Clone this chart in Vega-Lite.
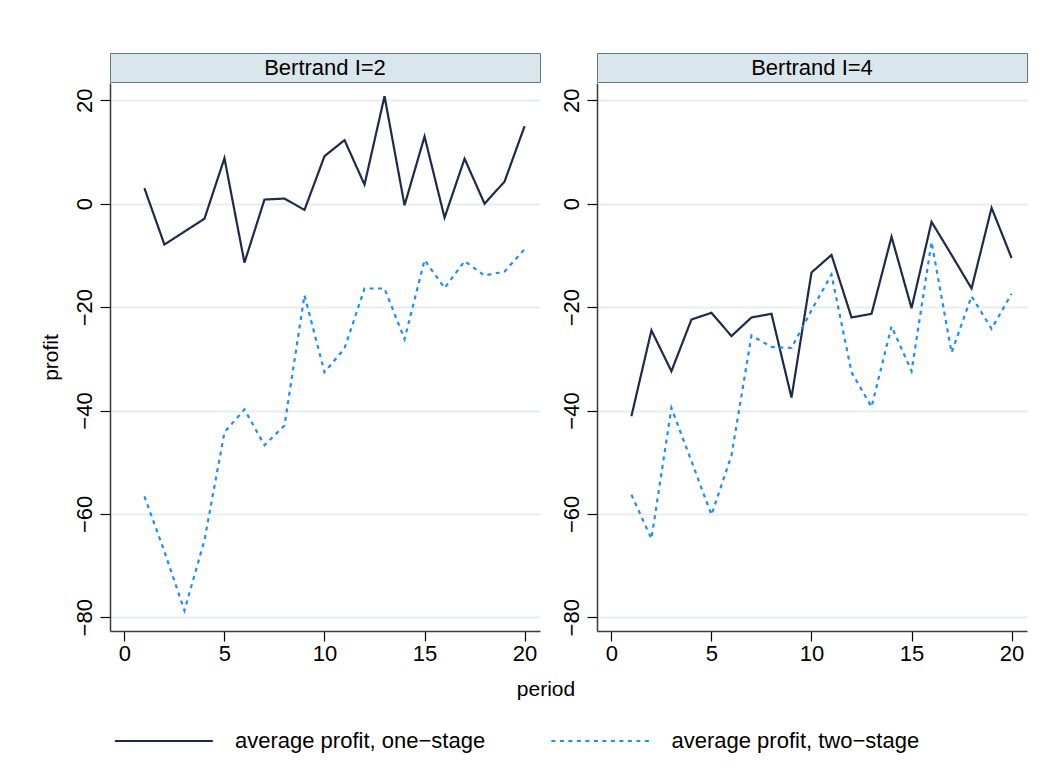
{
  "$schema": "https://vega.github.io/schema/vega-lite/v6.json",
  "background": "white",
  "padding": {"left": 40, "top": 52, "right": 30, "bottom": 5},
  "datasets": {
    "d": [
      {"panel": "Bertrand I=2", "period": 1, "series": "average profit, one−stage", "profit": 3.0},
      {"panel": "Bertrand I=2", "period": 2, "series": "average profit, one−stage", "profit": -7.9},
      {"panel": "Bertrand I=2", "period": 3, "series": "average profit, one−stage", "profit": -5.4},
      {"panel": "Bertrand I=2", "period": 4, "series": "average profit, one−stage", "profit": -2.9},
      {"panel": "Bertrand I=2", "period": 5, "series": "average profit, one−stage", "profit": 8.8},
      {"panel": "Bertrand I=2", "period": 6, "series": "average profit, one−stage", "profit": -11.4},
      {"panel": "Bertrand I=2", "period": 7, "series": "average profit, one−stage", "profit": 0.8},
      {"panel": "Bertrand I=2", "period": 8, "series": "average profit, one−stage", "profit": 1.0},
      {"panel": "Bertrand I=2", "period": 9, "series": "average profit, one−stage", "profit": -1.2},
      {"panel": "Bertrand I=2", "period": 10, "series": "average profit, one−stage", "profit": 9.2},
      {"panel": "Bertrand I=2", "period": 11, "series": "average profit, one−stage", "profit": 12.3},
      {"panel": "Bertrand I=2", "period": 12, "series": "average profit, one−stage", "profit": 3.7},
      {"panel": "Bertrand I=2", "period": 13, "series": "average profit, one−stage", "profit": 20.8},
      {"panel": "Bertrand I=2", "period": 14, "series": "average profit, one−stage", "profit": -0.3},
      {"panel": "Bertrand I=2", "period": 15, "series": "average profit, one−stage", "profit": 13.0},
      {"panel": "Bertrand I=2", "period": 16, "series": "average profit, one−stage", "profit": -2.7},
      {"panel": "Bertrand I=2", "period": 17, "series": "average profit, one−stage", "profit": 8.7},
      {"panel": "Bertrand I=2", "period": 18, "series": "average profit, one−stage", "profit": 0.0},
      {"panel": "Bertrand I=2", "period": 19, "series": "average profit, one−stage", "profit": 4.3},
      {"panel": "Bertrand I=2", "period": 20, "series": "average profit, one−stage", "profit": 15.0},
      {"panel": "Bertrand I=2", "period": 1, "series": "average profit, two−stage", "profit": -56.6},
      {"panel": "Bertrand I=2", "period": 2, "series": "average profit, two−stage", "profit": -67.3},
      {"panel": "Bertrand I=2", "period": 3, "series": "average profit, two−stage", "profit": -78.7},
      {"panel": "Bertrand I=2", "period": 4, "series": "average profit, two−stage", "profit": -65.1},
      {"panel": "Bertrand I=2", "period": 5, "series": "average profit, two−stage", "profit": -44.2},
      {"panel": "Bertrand I=2", "period": 6, "series": "average profit, two−stage", "profit": -39.8},
      {"panel": "Bertrand I=2", "period": 7, "series": "average profit, two−stage", "profit": -46.7},
      {"panel": "Bertrand I=2", "period": 8, "series": "average profit, two−stage", "profit": -42.9},
      {"panel": "Bertrand I=2", "period": 9, "series": "average profit, two−stage", "profit": -17.7},
      {"panel": "Bertrand I=2", "period": 10, "series": "average profit, two−stage", "profit": -32.6},
      {"panel": "Bertrand I=2", "period": 11, "series": "average profit, two−stage", "profit": -28.0},
      {"panel": "Bertrand I=2", "period": 12, "series": "average profit, two−stage", "profit": -16.4},
      {"panel": "Bertrand I=2", "period": 13, "series": "average profit, two−stage", "profit": -16.4},
      {"panel": "Bertrand I=2", "period": 14, "series": "average profit, two−stage", "profit": -26.2},
      {"panel": "Bertrand I=2", "period": 15, "series": "average profit, two−stage", "profit": -10.9},
      {"panel": "Bertrand I=2", "period": 16, "series": "average profit, two−stage", "profit": -16.3},
      {"panel": "Bertrand I=2", "period": 17, "series": "average profit, two−stage", "profit": -11.1},
      {"panel": "Bertrand I=2", "period": 18, "series": "average profit, two−stage", "profit": -13.9},
      {"panel": "Bertrand I=2", "period": 19, "series": "average profit, two−stage", "profit": -13.1},
      {"panel": "Bertrand I=2", "period": 20, "series": "average profit, two−stage", "profit": -8.8},
      {"panel": "Bertrand I=4", "period": 1, "series": "average profit, one−stage", "profit": -41.1},
      {"panel": "Bertrand I=4", "period": 2, "series": "average profit, one−stage", "profit": -24.5},
      {"panel": "Bertrand I=4", "period": 3, "series": "average profit, one−stage", "profit": -32.4},
      {"panel": "Bertrand I=4", "period": 4, "series": "average profit, one−stage", "profit": -22.4},
      {"panel": "Bertrand I=4", "period": 5, "series": "average profit, one−stage", "profit": -21.1},
      {"panel": "Bertrand I=4", "period": 6, "series": "average profit, one−stage", "profit": -25.6},
      {"panel": "Bertrand I=4", "period": 7, "series": "average profit, one−stage", "profit": -22.0},
      {"panel": "Bertrand I=4", "period": 8, "series": "average profit, one−stage", "profit": -21.3},
      {"panel": "Bertrand I=4", "period": 9, "series": "average profit, one−stage", "profit": -37.5},
      {"panel": "Bertrand I=4", "period": 10, "series": "average profit, one−stage", "profit": -13.3},
      {"panel": "Bertrand I=4", "period": 11, "series": "average profit, one−stage", "profit": -9.9},
      {"panel": "Bertrand I=4", "period": 12, "series": "average profit, one−stage", "profit": -22.0},
      {"panel": "Bertrand I=4", "period": 13, "series": "average profit, one−stage", "profit": -21.3},
      {"panel": "Bertrand I=4", "period": 14, "series": "average profit, one−stage", "profit": -6.4},
      {"panel": "Bertrand I=4", "period": 15, "series": "average profit, one−stage", "profit": -20.2},
      {"panel": "Bertrand I=4", "period": 16, "series": "average profit, one−stage", "profit": -3.5},
      {"panel": "Bertrand I=4", "period": 17, "series": "average profit, one−stage", "profit": -9.9},
      {"panel": "Bertrand I=4", "period": 18, "series": "average profit, one−stage", "profit": -16.4},
      {"panel": "Bertrand I=4", "period": 19, "series": "average profit, one−stage", "profit": -0.8},
      {"panel": "Bertrand I=4", "period": 20, "series": "average profit, one−stage", "profit": -10.5},
      {"panel": "Bertrand I=4", "period": 1, "series": "average profit, two−stage", "profit": -56.3},
      {"panel": "Bertrand I=4", "period": 2, "series": "average profit, two−stage", "profit": -64.8},
      {"panel": "Bertrand I=4", "period": 3, "series": "average profit, two−stage", "profit": -39.5},
      {"panel": "Bertrand I=4", "period": 4, "series": "average profit, two−stage", "profit": -49.8},
      {"panel": "Bertrand I=4", "period": 5, "series": "average profit, two−stage", "profit": -60.2},
      {"panel": "Bertrand I=4", "period": 6, "series": "average profit, two−stage", "profit": -48.7},
      {"panel": "Bertrand I=4", "period": 7, "series": "average profit, two−stage", "profit": -25.5},
      {"panel": "Bertrand I=4", "period": 8, "series": "average profit, two−stage", "profit": -27.7},
      {"panel": "Bertrand I=4", "period": 9, "series": "average profit, two−stage", "profit": -27.9},
      {"panel": "Bertrand I=4", "period": 10, "series": "average profit, two−stage", "profit": -20.6},
      {"panel": "Bertrand I=4", "period": 11, "series": "average profit, two−stage", "profit": -13.7},
      {"panel": "Bertrand I=4", "period": 12, "series": "average profit, two−stage", "profit": -32.6},
      {"panel": "Bertrand I=4", "period": 13, "series": "average profit, two−stage", "profit": -39.3},
      {"panel": "Bertrand I=4", "period": 14, "series": "average profit, two−stage", "profit": -23.7},
      {"panel": "Bertrand I=4", "period": 15, "series": "average profit, two−stage", "profit": -32.4},
      {"panel": "Bertrand I=4", "period": 16, "series": "average profit, two−stage", "profit": -7.4},
      {"panel": "Bertrand I=4", "period": 17, "series": "average profit, two−stage", "profit": -28.8},
      {"panel": "Bertrand I=4", "period": 18, "series": "average profit, two−stage", "profit": -17.9},
      {"panel": "Bertrand I=4", "period": 19, "series": "average profit, two−stage", "profit": -24.2},
      {"panel": "Bertrand I=4", "period": 20, "series": "average profit, two−stage", "profit": -17.4}
    ]
  },
  "config": {
    "font": "Liberation Sans",
    "axis": {
      "labelFont": "Liberation Sans",
      "titleFont": "Liberation Sans",
      "labelColor": "#000000",
      "titleColor": "#000000",
      "titleFontWeight": "normal",
      "domainColor": "#3a3a3a",
      "domainWidth": 1.5,
      "tickColor": "#000000",
      "tickWidth": 1.2
    },
    "legend": {
      "labelFont": "Liberation Sans"
    }
  },
  "spacing": 15,
  "vconcat": [
    {
      "spacing": 19,
      "hconcat": [
        {
          "spacing": 0,
          "vconcat": [
            {
              "width": 430,
              "height": 29,
              "view": {"fill": "#d9e6eb", "stroke": "#62778a", "strokeWidth": 1},
              "data": {"values": [{"label": "Bertrand I=2"}]},
              "mark": {"type": "text", "fontSize": 22, "font": "Liberation Sans", "color": "#000000", "baseline": "middle"},
              "encoding": {"text": {"field": "label", "type": "nominal"}}
            },
            {
              "width": 430,
              "height": 548,
              "view": {"stroke": null},
              "data": {"name": "d"},
              "transform": [{"filter": "datum.panel === 'Bertrand I=2'"}],
              "mark": {"type": "line", "strokeWidth": 2.2},
              "encoding": {
                "x": {
                  "field": "period", "type": "quantitative",
                  "scale": {"domain": [-0.72, 20.77], "nice": false, "zero": false},
                  "axis": {"values": [0, 5, 10, 15, 20], "grid": false, "tickSize": 10, "labelFontSize": 22, "labelPadding": 2,
                           "title": null, "labelFlush": false}
                },
                "y": {
                  "field": "profit", "type": "quantitative",
                  "scale": {"domain": [-82.65, 23.35], "nice": false, "zero": false},
                  "axis": {"values": [-80, -60, -40, -20, 0, 20], "grid": true, "gridColor": "#e8eef0", "gridWidth": 2,
                           "tickSize": 10, "labelFontSize": 22, "labelAngle": -90, "labelAlign": "center", "labelBaseline": "bottom",
                           "labelPadding": 4, "title": "profit", "titleFontSize": 21, "titlePadding": 12, "labelFlush": false}
                },
                "color": {
                  "field": "series", "type": "nominal",
                  "scale": {"domain": ["average profit, one−stage", "average profit, two−stage"], "range": ["#1f2a4a", "#1e8cff"]},
                  "legend": {
                    "orient": "bottom", "direction": "horizontal", "title": null,
                    "symbolType": "M-1,0H15", "symbolSize": 150, "symbolStrokeWidth": 2.2,
                    "labelFontSize": 22, "labelColor": "#000000", "labelOffset": 103, "labelLimit": 400,
                    "columnPadding": 60.5, "offset": 30
                  }
                },
                "strokeDash": {
                  "field": "series", "type": "nominal",
                  "scale": {"domain": ["average profit, one−stage", "average profit, two−stage"], "range": [[1, 0], [4, 4.5]]},
                  "legend": null
                },
                "order": {"field": "period"}
              }
            }
          ]
        },
        {
          "spacing": 0,
          "vconcat": [
            {
              "width": 430,
              "height": 29,
              "view": {"fill": "#d9e6eb", "stroke": "#62778a", "strokeWidth": 1},
              "data": {"values": [{"label": "Bertrand I=4"}]},
              "mark": {"type": "text", "fontSize": 22, "font": "Liberation Sans", "color": "#000000", "baseline": "middle"},
              "encoding": {"text": {"field": "label", "type": "nominal"}}
            },
            {
              "width": 430,
              "height": 548,
              "view": {"stroke": null},
              "data": {"name": "d"},
              "transform": [{"filter": "datum.panel === 'Bertrand I=4'"}],
              "mark": {"type": "line", "strokeWidth": 2.2},
              "encoding": {
                "x": {
                  "field": "period", "type": "quantitative",
                  "scale": {"domain": [-0.72, 20.77], "nice": false, "zero": false},
                  "axis": {"values": [0, 5, 10, 15, 20], "grid": false, "tickSize": 10, "labelFontSize": 22, "labelPadding": 2,
                           "title": null, "labelFlush": false}
                },
                "y": {
                  "field": "profit", "type": "quantitative",
                  "scale": {"domain": [-82.65, 23.35], "nice": false, "zero": false},
                  "axis": {"values": [-80, -60, -40, -20, 0, 20], "grid": true, "gridColor": "#e8eef0", "gridWidth": 2,
                           "tickSize": 10, "labelFontSize": 22, "labelAngle": -90, "labelAlign": "center", "labelBaseline": "bottom",
                           "labelPadding": 4, "title": null, "labelFlush": false}
                },
                "color": {
                  "field": "series", "type": "nominal",
                  "scale": {"domain": ["average profit, one−stage", "average profit, two−stage"], "range": ["#1f2a4a", "#1e8cff"]}
                },
                "strokeDash": {
                  "field": "series", "type": "nominal",
                  "scale": {"domain": ["average profit, one−stage", "average profit, two−stage"], "range": [[1, 0], [4, 4.5]]},
                  "legend": null
                },
                "order": {"field": "period"}
              }
            }
          ]
        }
      ]
    },
    {
      "width": 872,
      "height": 20,
      "view": {"stroke": null},
      "data": {"values": [{"label": "period"}]},
      "mark": {"type": "text", "fontSize": 21, "font": "Liberation Sans", "color": "#000000", "baseline": "middle"},
      "encoding": {"text": {"field": "label", "type": "nominal"}}
    }
  ]
}
